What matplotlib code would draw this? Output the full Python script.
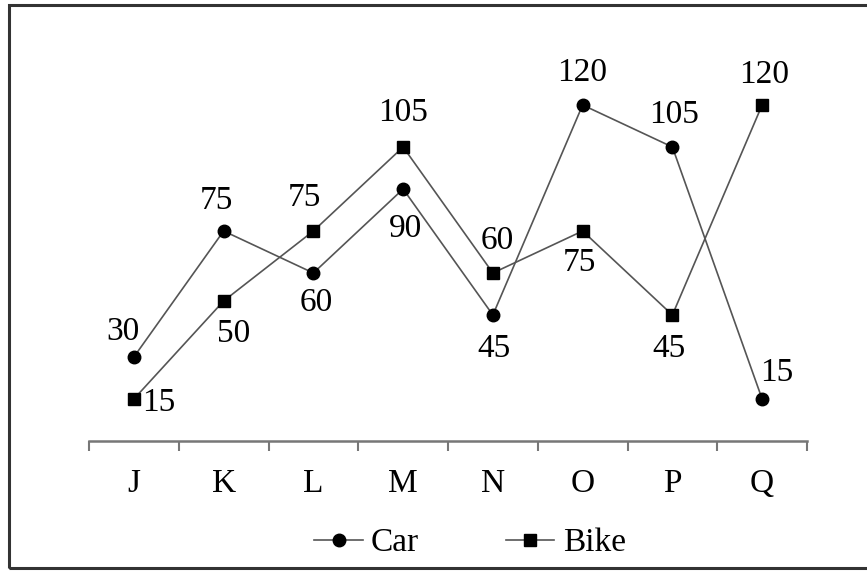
import matplotlib
matplotlib.use('Agg')
import matplotlib.pyplot as plt
from matplotlib.patches import Rectangle

categories = ['J', 'K', 'L', 'M', 'N', 'O', 'P', 'Q']
car = [30, 75, 60, 90, 45, 120, 105, 15]
bike = [15, 50, 75, 105, 60, 75, 45, 120]

# label offsets in pixels (dx, dy) from each point
car_offsets = [(-11, 25), (-7, 30), (3, -30), (2, -40), (1, -34), (0, 32), (2, 32), (15, 26)]
bike_offsets = [(25, -4), (10, -33), (-9, 33), (0, 34), (4, 32), (-3, -32), (-3, -34), (2, 30)]

plt.rcParams['font.family'] = ['Liberation Serif', 'DejaVu Serif']

fig = plt.figure(figsize=(8.67, 5.71), dpi=100)
ax = fig.add_axes([89 / 867, 130 / 571, 718 / 867, 336 / 571])

x = list(range(len(categories)))
line_kw = dict(color='#555555', linewidth=1.2,
               markerfacecolor='black', markeredgecolor='black', clip_on=False)
ax.plot(x, car, marker='o', markersize=9, label='Car', **line_kw)
ax.plot(x, bike, marker='s', markersize=8.5, label='Bike', **line_kw)

for xi, v, off in zip(x, car, car_offsets):
    ax.annotate(str(v), (xi, v), xytext=off, textcoords='offset pixels',
                ha='center', va='center', fontsize=24)
for xi, v, off in zip(x, bike, bike_offsets):
    ax.annotate(str(v), (xi, v), xytext=off, textcoords='offset pixels',
                ha='center', va='center', fontsize=24)

ax.set_xlim(-0.5, len(categories) - 0.5)
ax.set_ylim(0, 120)
for side in ['top', 'right', 'left']:
    ax.spines[side].set_visible(False)
ax.spines['bottom'].set_color('#777777')
ax.spines['bottom'].set_linewidth(1.8)
ax.set_yticks([])

ax.set_xticks([i - 0.5 for i in range(len(categories) + 1)])
ax.set_xticklabels([])
ax.tick_params(axis='x', which='major', direction='out', length=7,
               width=1.5, color='#777777')
ax.set_xticks(x, minor=True)
ax.set_xticklabels(categories, minor=True, fontsize=24)
ax.tick_params(axis='x', which='minor', length=0, pad=20)

fig.legend(loc='center', bbox_to_anchor=(470 / 867, 1 - 543 / 571), ncol=2,
           frameon=False, fontsize=24, handlelength=1.45, handletextpad=0.25,
           columnspacing=2.6)

fig.patches.append(Rectangle((9 / 867, 3 / 571), 1.0, 563 / 571,
                             transform=fig.transFigure, fill=False,
                             edgecolor='#333333', linewidth=2.2))

fig.savefig('out.png', dpi=100)
